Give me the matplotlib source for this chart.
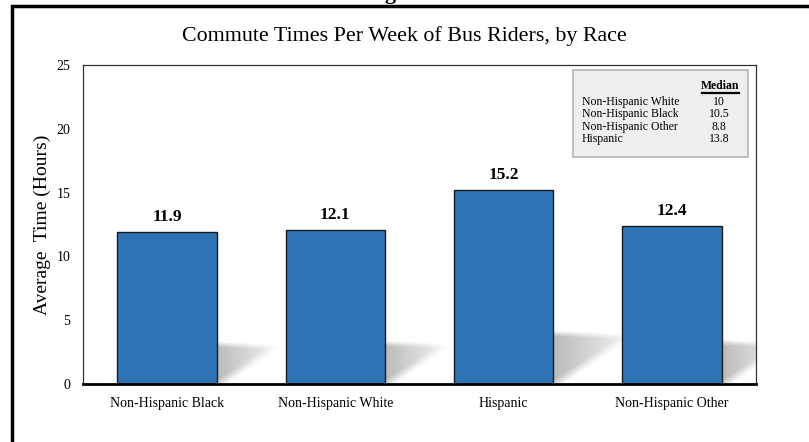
# Bar chart of weekly commute times for bus riders, with a median table inset

import numpy as np
import matplotlib
matplotlib.use("Agg")
import matplotlib.pyplot as plt
from matplotlib.patches import Rectangle
from matplotlib.lines import Line2D

plt.rcParams['font.family'] = ['Liberation Serif', 'DejaVu Serif']

# data
groups = ["Non-Hispanic Black", "Non-Hispanic White", "Hispanic", "Non-Hispanic Other"]
avg_hours = [11.9, 12.1, 15.2, 12.4]
median_groups = ["Non-Hispanic White", "Non-Hispanic Black", "Non-Hispanic Other", "Hispanic"]
median_values = ["10", "10.5", "8.8", "13.8"]
y_ticks = [0, 5, 10, 15, 20, 25]

W_PX, H_PX = 809, 442
fig = plt.figure(figsize=(W_PX / 100, H_PX / 100), dpi=100)


def fx(x):
    return x / W_PX


def fy(y):
    return 1 - y / H_PX


# outer page frame (runs off the right and bottom edges)
fig.patches.append(Rectangle((fx(12), fy(460)), fx(900), fy(6) - fy(460),
                             transform=fig.transFigure, fill=False,
                             edgecolor='black', linewidth=2.5))
# bottom of the figure heading that sits above the frame
fig.text(fx(366), fy(-1.5), "Figure", fontsize=16, fontweight='bold',
         ha='left', va='baseline')

# plot area
ax_l, ax_r, ax_t, ax_b = 83, 756, 65, 384
ax = fig.add_axes([fx(ax_l), fy(ax_b), fx(ax_r - ax_l), fy(ax_t) - fy(ax_b)])

x = np.arange(len(groups))
bar_w = 0.59
ymax = 25
px_x = (ax_r - ax_l) / len(groups)
px_y = (ax_b - ax_t) / ymax


def draw_shadow(ax, x_right, value):
    # soft floor shadow cast up and to the right of a bar
    h = value * px_y
    W, H = 0.37 * h, 0.26 * h
    pad = 10
    dx = np.linspace(-2, W + pad, int(W + pad + 2) * 2)
    dy = np.linspace(-2, H + pad, int(H + pad + 2) * 2)
    DX, DY = np.meshgrid(dx, dy)
    top = np.clip(0.5 + (H * (1 - 0.06 * DX / W) - DY) / 6, 0, 1)
    k = 0.9 * H / (0.95 * W)
    d2 = (DY - k * (DX - 0.04 * W)) / np.sqrt(1 + k * k)
    bottom = np.clip(0.5 + d2 / 9, 0, 1)
    fade = np.clip(1 - 0.75 * DX / W, 0, 1)
    alpha = 0.27 * top * bottom * fade
    img = np.zeros(DX.shape + (4,))
    img[..., 3] = alpha
    ax.imshow(img, origin='lower', aspect='auto', interpolation='bilinear',
              extent=[x_right - 2 / px_x, x_right + (W + pad) / px_x,
                      -2 / px_y, (H + pad) / px_y], zorder=1)


for xi, v in zip(x, avg_hours):
    draw_shadow(ax, xi + bar_w / 2, v)

bars = ax.bar(x, avg_hours, width=bar_w, color='#2e74b5', edgecolor='#1a1a1a',
              linewidth=1.0, zorder=2)
for xi, v in zip(x, avg_hours):
    ax.annotate(f"{v}", (xi, v), xytext=(0, 5), textcoords='offset points',
                ha='center', va='bottom', fontsize=12.5, fontweight='bold')

ax.set_xlim(-0.5, len(groups) - 0.5)
ax.set_ylim(0, ymax)
ax.set_yticks(y_ticks)
ax.set_xticks(x)
ax.set_xticklabels(groups, fontsize=10)
ax.tick_params(axis='both', length=0, labelsize=10)
ax.tick_params(axis='x', pad=9)
ax.tick_params(axis='y', pad=9)
ax.set_ylabel("Average  Time (Hours)", fontsize=14, labelpad=4)
for side in ['top', 'right', 'left']:
    ax.spines[side].set_linewidth(0.9)
    ax.spines[side].set_color('#333333')
ax.spines['bottom'].set_linewidth(2)
ax.spines['bottom'].set_color('black')

fig.text(fx(404), fy(36), "Commute Times Per Week of Bus Riders, by Race",
         fontsize=15.8, ha='center', va='center')

# median table inset
box_l, box_r, box_t, box_b = 573, 748, 70, 157
fig.patches.append(Rectangle((fx(box_l), fy(box_b)), fx(box_r - box_l),
                             fy(box_t) - fy(box_b), transform=fig.transFigure,
                             facecolor='#efefef', edgecolor='#b5b5b5',
                             linewidth=1.2, zorder=5))
val_x = 719
fig.text(fx(val_x + 1), fy(86), "Median", fontsize=8.5, fontweight='bold',
         ha='center', va='center', zorder=6)
fig.add_artist(Line2D([fx(702), fx(739)], [fy(92.5), fy(92.5)],
                      transform=fig.transFigure, color='black', linewidth=1.6,
                      zorder=6))
row_y0, row_step = 102, 12.3
for i, (name, val) in enumerate(zip(median_groups, median_values)):
    yy = row_y0 + i * row_step
    fig.text(fx(582), fy(yy), name, fontsize=8.5, ha='left', va='center', zorder=6)
    fig.text(fx(val_x), fy(yy), val, fontsize=8.5, ha='center', va='center', zorder=6)

fig.savefig("out.png", dpi=100)
